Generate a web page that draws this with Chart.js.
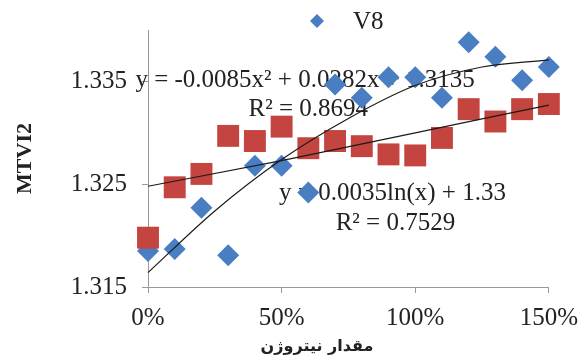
<!DOCTYPE html>
<html>
<head>
<meta charset="utf-8">
<script src="https://cdn.jsdelivr.net/npm/chart.js@4.4.0/dist/chart.umd.min.js"></script>
<style>
  html, body { margin: 0; padding: 0; background: #fff; }
  #wrap { width: 588px; height: 363px; }
</style>
</head>
<body>
<div id="wrap"><canvas id="grafico"></canvas></div>
<script>
// values
var nitrogen = [0, 10, 20, 30, 40, 50, 60, 70, 80, 90, 100, 110, 120, 130, 140, 150];
var v8 = [1.3185, 1.3187, 1.3227, 1.3181, 1.3268, 1.3268, 1.3242, 1.3347, 1.3334, 1.3354, 1.3354, 1.3334, 1.3388, 1.3374, 1.3351, 1.3364];
var serie2 = [1.3198, 1.3247, 1.3260, 1.3297, 1.3292, 1.3306, 1.3285, 1.3292, 1.3287, 1.3279, 1.3278, 1.3295, 1.3323, 1.3311, 1.3323, 1.3328];

// trend lines
var polyX = [0, 25, 50, 75, 100, 125, 150];
var polyY = [1.3164, 1.3224, 1.3274, 1.3314, 1.3346, 1.3364, 1.3371];
var logX = [0, 50, 100, 150];
var logY = [1.3248, 1.3273, 1.3300, 1.3327];

var xTicks = [0, 50, 100, 150];
var yTicks = [1.315, 1.325, 1.335];

// equation labels
var eqTexts = ['y = -0.0085x\u00b2 + 0.0282x + 1.3135', 'R\u00b2 = 0.8694', 'y = 0.0035ln(x) + 1.33', 'R\u00b2 = 0.7529'];
var eqX = [58.8, 60, 91.5, 92.6];
var eqY = [1.3351, 1.3323, 1.3241, 1.3212];

function pts(xs, ys) {
  return xs.map(function (x, i) { return { x: x, y: ys[i] }; });
}

var serif = '"Liberation Serif", "Times New Roman", serif';

var textos = {
  id: 'textos',
  beforeDatasetsDraw: function (chart) {
    var ctx = chart.ctx, sx = chart.scales.x, sy = chart.scales.y;
    ctx.save();
    ctx.fillStyle = '#222';
    ctx.font = '25px ' + serif;
    ctx.textAlign = 'center';
    ctx.textBaseline = 'middle';
    eqTexts.forEach(function (t, i) {
      ctx.fillText(t, sx.getPixelForValue(eqX[i]), sy.getPixelForValue(eqY[i]));
    });
    ctx.restore();
  },
  afterDraw: function (chart) {
    var ctx = chart.ctx;
    ctx.save();
    // legend (only V8 shows)
    ctx.fillStyle = '#4A7EC2';
    ctx.beginPath();
    ctx.moveTo(317, 14);
    ctx.lineTo(324, 21);
    ctx.lineTo(317, 28);
    ctx.lineTo(310, 21);
    ctx.closePath();
    ctx.fill();
    ctx.fillStyle = '#222';
    ctx.font = '25px ' + serif;
    ctx.textAlign = 'left';
    ctx.textBaseline = 'middle';
    ctx.fillText('V8', 353, 22);
    // x axis title
    ctx.font = 'bold 16px "DejaVu Sans"';
    ctx.textAlign = 'center';
    ctx.fillText('مقدار نیتروژن', 317, 347);
    ctx.restore();
  }
};

var ctx = document.getElementById('grafico').getContext('2d');
new Chart(ctx, {
  type: 'scatter',
  data: {
    datasets: [{
      label: 'trend V8',
      data: pts(polyX, polyY),
      showLine: true,
      pointRadius: 0,
      borderColor: '#1a1a1a',
      borderWidth: 1.2,
      cubicInterpolationMode: 'monotone',
      order: 0
    }, {
      label: 'trend 2',
      data: pts(logX, logY),
      showLine: true,
      pointRadius: 0,
      borderColor: '#1a1a1a',
      borderWidth: 1.2,
      cubicInterpolationMode: 'monotone',
      order: 0
    }, {
      label: '',
      data: pts(nitrogen, serie2),
      pointStyle: 'rect',
      pointRadius: 15.5,
      pointBackgroundColor: '#C4443F',
      pointBorderWidth: 0,
      order: 1
    }, {
      label: 'V8',
      data: pts(nitrogen, v8),
      pointStyle: 'rectRot',
      pointRadius: 11,
      pointBackgroundColor: '#4A7EC2',
      pointBorderWidth: 0,
      order: 2
    }]
  },
  options: {
    responsive: true,
    maintainAspectRatio: false,
    animation: false,
    clip: false,
    layout: { padding: { top: 30, right: 32, left: 0, bottom: 0 } },
    plugins: {
      legend: { display: false },
      tooltip: { enabled: false }
    },
    scales: {
      x: {
        type: 'linear',
        min: 0,
        max: 150,
        afterBuildTicks: function (s) { s.ticks = xTicks.map(function (v) { return { value: v }; }); },
        afterFit: function (s) { s.height = 76; },
        ticks: {
          padding: 10,
          color: '#222',
          font: { family: serif, size: 25 },
          callback: function (v) { return v + '%'; }
        },
        grid: { drawOnChartArea: false, tickLength: 6, color: '#999' },
        border: { color: '#999' }
      },
      y: {
        min: 1.315,
        max: 1.34,
        afterBuildTicks: function (s) { s.ticks = yTicks.map(function (v) { return { value: v }; }); },
        afterFit: function (s) { s.width = 148; },
        ticks: {
          padding: 15,
          color: '#222',
          font: { family: serif, size: 25 },
          callback: function (v) { return v.toFixed(3); }
        },
        grid: { drawOnChartArea: false, tickLength: 6, color: '#999' },
        border: { color: '#999' },
        title: {
          display: true,
          text: 'MTVI2',
          color: '#222',
          font: { family: serif, size: 22, weight: 'bold' },
          padding: { top: 12, bottom: 0 }
        }
      }
    }
  },
  plugins: [textos]
});
</script>
</body>
</html>
